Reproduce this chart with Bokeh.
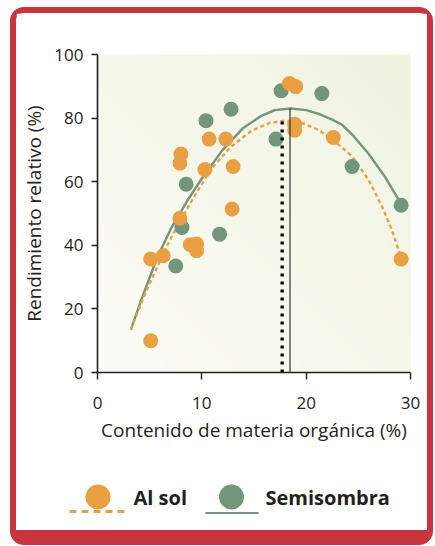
import numpy as np
from bokeh.plotting import figure
from bokeh.layouts import column
from bokeh.models import FixedTicker, Range1d
from bokeh.core.properties import value
from bokeh.embed import file_html
from bokeh.resources import INLINE

# ---------------- data ----------------
sol_x = [5.1, 5.1, 6.3, 7.9, 8.9, 9.5, 9.5, 12.9, 8.0, 7.9, 10.7, 12.3, 10.3, 13.0,
         18.4, 19.0, 18.9, 18.9, 22.6, 29.1]
sol_y = [10.0, 35.7, 36.7, 48.5, 40.2, 40.4, 38.3, 51.4, 68.7, 65.8, 73.4, 73.4, 63.8, 64.8,
         90.9, 89.9, 78.1, 76.2, 73.9, 35.7]

semi_x = [8.1, 7.5, 11.7, 8.5, 10.4, 12.8, 17.6, 21.5, 17.1, 24.4, 29.1]
semi_y = [45.6, 33.5, 43.5, 59.2, 79.2, 82.8, 88.6, 87.7, 73.4, 64.8, 52.6]

# fitted trend curves
sol_curve_x = [3.2, 4.4, 6.1, 7.0, 8.0, 9.3, 10.9, 12.8, 14.75, 16.5, 18.0, 19.5, 21.2,
               22.8, 24.4, 26.0, 27.3, 28.2, 29.1]
sol_curve_y = [13.6, 23.5, 36.0, 42.0, 48.0, 55.5, 64.0, 71.0, 76.0, 78.5, 79.2, 78.6, 76.3,
               72.5, 68.0, 60.5, 52.0, 45.0, 36.0]

semi_curve_x = [3.2, 4.1, 5.7, 7.0, 8.6, 10.0, 12.0, 14.0, 15.7, 17.0, 18.5, 20.0, 21.2,
                22.5, 23.4, 24.5, 26.0, 27.6, 29.1]
semi_curve_y = [13.5, 22.0, 36.0, 45.0, 54.0, 61.0, 70.0, 77.0, 80.7, 82.5, 83.0, 82.5, 81.3,
                79.5, 78.0, 74.5, 68.7, 61.3, 53.0]

# optimum markers (vertical lines)
sol_opt_x = [17.7]
sol_opt_y = [79.5]
semi_opt_x = [18.45]
semi_opt_y = [83.0]

x_ticks = [0, 10, 20, 30]
y_ticks = [0, 20, 40, 60, 80, 100]
x_label = "Contenido de materia orgánica (%)"
y_label = "Rendimiento relativo (%)"
series_names = ["Al sol", "Semisombra"]

# ---------------- styles ----------------
ORANGE = "#eaa042"
GREEN = "#73957a"
RED = "#c9353f"
INK = "#231f20"
FONT = "Open Sans"

CARD_W = 411  # inner width of the card

p = figure(width=CARD_W, height=447,
           x_range=Range1d(x_ticks[0], x_ticks[-1]),
           y_range=Range1d(y_ticks[0], y_ticks[-1]),
           output_backend="svg", toolbar_location=None,
           min_border_left=81, min_border_right=17,
           min_border_top=41, min_border_bottom=88,
           background_fill_color="#f7f8ee", border_fill_color="white",
           outline_line_color=None)
p.grid.visible = False
p.frame_align = False

# ---- gradient background of the plotting area ----
n = 64
u = np.linspace(0, 1, n)[None, :]
v = np.linspace(0, 1, n)[:, None]
t = (u + v) / 2.0
c0 = np.array([252, 252, 247])
c1 = np.array([240, 243, 224])
img = np.empty((n, n), dtype=np.uint32)
view = img.view(dtype=np.uint8).reshape((n, n, 4))
for k in range(3):
    view[:, :, k] = (c0[k] + (c1[k] - c0[k]) * t).astype(np.uint8)
view[:, :, 3] = 255
p.image_rgba(image=[img], x=x_ticks[0], y=y_ticks[0],
             dw=x_ticks[-1] - x_ticks[0], dh=y_ticks[-1] - y_ticks[0], level="underlay")

# ---- curves ----
p.line(semi_curve_x, semi_curve_y, line_color=GREEN, line_width=2.4)
p.line(sol_curve_x, sol_curve_y, line_color=ORANGE, line_width=2.4, line_dash="4 3")

# ---- points ----
p.scatter(semi_x, semi_y, size=15, fill_color=GREEN, line_color=None)
p.scatter(sol_x, sol_y, size=15, fill_color=ORANGE, line_color=None)

# ---- optimum lines ----
p.segment(x0=sol_opt_x, y0=[y_ticks[0]], x1=sol_opt_x, y1=sol_opt_y,
          line_color="black", line_width=3.3, line_dash="3 5")
p.segment(x0=semi_opt_x, y0=[y_ticks[0]], x1=semi_opt_x, y1=semi_opt_y,
          line_color="#333333", line_width=1.2)

# ---- axes ----
for ax in (p.xaxis[0], p.yaxis[0]):
    ax.axis_line_color = INK
    ax.axis_line_width = 1.6
    ax.major_tick_line_color = INK
    ax.major_tick_line_width = 1.4
    ax.major_tick_in = 0
    ax.minor_tick_line_color = None
    ax.major_label_text_font = FONT
    ax.major_label_text_font_size = "17px"
    ax.major_label_text_color = INK
    ax.axis_label_text_font = FONT
    ax.axis_label_text_font_style = "normal"
    ax.axis_label_text_color = INK

p.xaxis.ticker = FixedTicker(ticks=x_ticks)
p.yaxis.ticker = FixedTicker(ticks=y_ticks)
p.xaxis.axis_label = x_label
p.yaxis.axis_label = y_label
p.xaxis.axis_label_text_font_size = "19px"
p.yaxis.axis_label_text_font_size = "19px"
p.xaxis.major_tick_out = 7
p.yaxis.major_tick_out = 6
p.xaxis.major_label_standoff = 17
p.xaxis.axis_label_standoff = 5
p.yaxis.major_label_standoff = 8
p.yaxis.axis_label_standoff = 4

# ---------------- legend figure (pixel coordinates) ----------------
LEG_H = 70
q = figure(width=CARD_W, height=LEG_H, x_range=Range1d(0, CARD_W), y_range=Range1d(LEG_H, 0),
           output_backend="svg", toolbar_location=None,
           min_border=0, border_fill_color="white", background_fill_color="white",
           outline_line_color=None)
q.axis.visible = False
q.grid.visible = False
q.frame_align = False

leg_colors = [ORANGE, GREEN]
leg_circle_x = [81.5, 215]
leg_circle_y = [36.5, 36.5]
q.scatter(leg_circle_x, leg_circle_y, size=25, fill_color=leg_colors, line_color=None)
q.segment(x0=[53], y0=[51], x1=[108], y1=[51], line_color=ORANGE, line_width=3, line_dash="7 5")
q.segment(x0=[189], y0=[52.5], x1=[242], y1=[52.5], line_color=GREEN, line_width=2)
q.text(x=[117, 249], y=[37, 37], text=series_names, text_font=value(FONT),
       text_font_style="bold", text_font_size="20px", text_color=INK,
       text_baseline="middle", text_align="left")

layout = column(p, q, spacing=0, styles={
    "border-style": "solid",
    "border-color": RED,
    "border-width": "6px 6px 15px 6px",
    "border-radius": "14px",
    "margin": "7px 0 0 10px",
    "background-color": "white",
})

open("out.html", "w").write(file_html(layout, INLINE))
